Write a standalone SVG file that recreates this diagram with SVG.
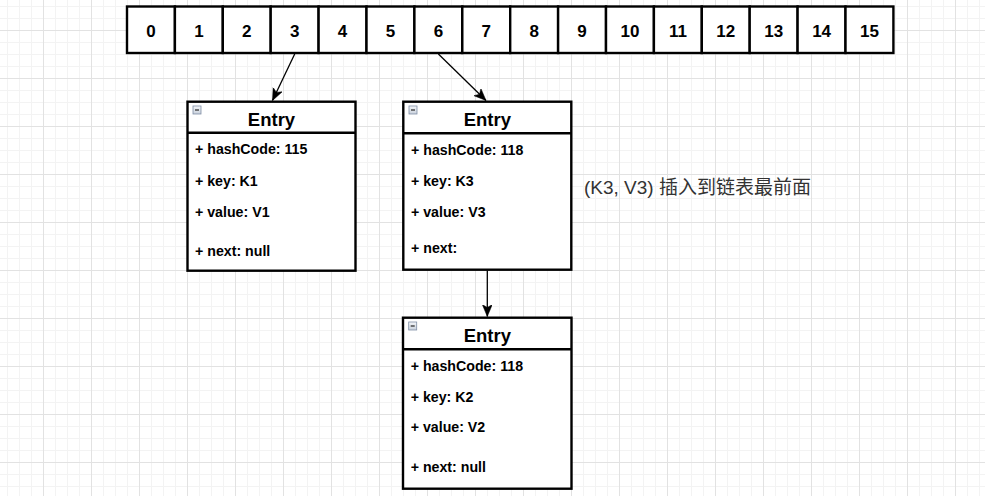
<svg xmlns="http://www.w3.org/2000/svg" width="985" height="496" viewBox="0 0 985 496">
<style>
.cell{fill:#fff;stroke:#000;stroke-width:2.4}
.num{font-family:"Liberation Sans",Arial,sans-serif;font-weight:bold;font-size:17px;text-anchor:middle;fill:#000}
.box{fill:#fff;stroke:#000;stroke-width:2.4}
.title{font-family:"Liberation Sans",Arial,sans-serif;font-weight:bold;font-size:18.5px;text-anchor:middle;fill:#000}
.field{font-family:"Liberation Sans",Arial,sans-serif;font-weight:bold;font-size:14.2px;fill:#000}
.conn{stroke:#000;stroke-width:1.3;fill:none}
.note{font-family:"Liberation Sans","Noto Sans CJK SC",sans-serif;font-size:19px;fill:#333}
.icon{fill:url(#ig);stroke:#7f8ea5;stroke-width:0.8}
</style>
<defs>
<pattern id="minor" patternUnits="userSpaceOnUse" width="12" height="12">
<path d="M7.5 0V12M0 6.5H12" stroke="#f3f3f3" stroke-width="1" fill="none"/>
</pattern>
<pattern id="major" patternUnits="userSpaceOnUse" width="48" height="48">
<path d="M43.5 0V48M0 30.5H48" stroke="#e2e2e2" stroke-width="1" fill="none"/>
</pattern>
<linearGradient id="ig" x1="0" y1="0" x2="0" y2="1">
<stop offset="0" stop-color="#f4f6f9"/>
<stop offset="1" stop-color="#c9d1dc"/>
</linearGradient>
<marker id="arr" markerUnits="userSpaceOnUse" markerWidth="14" markerHeight="12" refX="12" refY="5" orient="auto">
<path d="M0 0L12 5L0 10L3 5Z" fill="#000" stroke="#000" stroke-width="0.5"/>
</marker>
<g id="minus">
<rect class="icon" x="0" y="0" width="8" height="8"/>
<path d="M2 4H6" stroke="#333" stroke-width="1.3"/>
</g>
</defs>
<rect width="985" height="496" fill="#fff"/>
<rect width="985" height="496" fill="url(#minor)"/>
<rect width="985" height="496" fill="url(#major)"/>

<g id="array">
<rect class="cell" x="127" y="6.5" width="47.9" height="46.5"/>
<rect class="cell" x="174.9" y="6.5" width="47.9" height="46.5"/>
<rect class="cell" x="222.8" y="6.5" width="47.9" height="46.5"/>
<rect class="cell" x="270.7" y="6.5" width="47.9" height="46.5"/>
<rect class="cell" x="318.6" y="6.5" width="47.9" height="46.5"/>
<rect class="cell" x="366.5" y="6.5" width="47.9" height="46.5"/>
<rect class="cell" x="414.4" y="6.5" width="47.9" height="46.5"/>
<rect class="cell" x="462.3" y="6.5" width="47.9" height="46.5"/>
<rect class="cell" x="510.2" y="6.5" width="47.9" height="46.5"/>
<rect class="cell" x="558.1" y="6.5" width="47.9" height="46.5"/>
<rect class="cell" x="606" y="6.5" width="47.9" height="46.5"/>
<rect class="cell" x="653.9" y="6.5" width="47.9" height="46.5"/>
<rect class="cell" x="701.8" y="6.5" width="47.9" height="46.5"/>
<rect class="cell" x="749.7" y="6.5" width="47.9" height="46.5"/>
<rect class="cell" x="797.6" y="6.5" width="47.9" height="46.5"/>
<rect class="cell" x="845.5" y="6.5" width="47.9" height="46.5"/>
<text class="num" x="151" y="36.5">0</text>
<text class="num" x="198.9" y="36.5">1</text>
<text class="num" x="246.8" y="36.5">2</text>
<text class="num" x="294.7" y="36.5">3</text>
<text class="num" x="342.6" y="36.5">4</text>
<text class="num" x="390.5" y="36.5">5</text>
<text class="num" x="438.4" y="36.5">6</text>
<text class="num" x="486.3" y="36.5">7</text>
<text class="num" x="534.2" y="36.5">8</text>
<text class="num" x="582.1" y="36.5">9</text>
<text class="num" x="630" y="36.5">10</text>
<text class="num" x="677.9" y="36.5">11</text>
<text class="num" x="725.8" y="36.5">12</text>
<text class="num" x="773.7" y="36.5">13</text>
<text class="num" x="821.6" y="36.5">14</text>
<text class="num" x="869.5" y="36.5">15</text>
</g>

<g id="connectors">
<line class="conn" x1="294.7" y1="54" x2="272.5" y2="100.5" marker-end="url(#arr)"/>
<line class="conn" x1="438.4" y1="54" x2="486" y2="100.5" marker-end="url(#arr)"/>
<line class="conn" x1="487.3" y1="270.5" x2="487.3" y2="316.5" marker-end="url(#arr)"/>
</g>

<g id="entry1">
<rect class="box" x="187.5" y="101.7" width="168" height="169"/>
<line class="box" x1="187.5" y1="132.8" x2="355.5" y2="132.8"/>
<use href="#minus" x="193" y="106"/>
<text class="title" x="271.5" y="125.7">Entry</text>
<text class="field" x="195" y="154.3">+ hashCode: 115</text>
<text class="field" x="195" y="185.7">+ key: K1</text>
<text class="field" x="195" y="216.7">+ value: V1</text>
<text class="field" x="195" y="255.7">+ next: null</text>
</g>

<g id="entry2">
<rect class="box" x="403.3" y="101.7" width="168" height="168"/>
<line class="box" x1="403.3" y1="133.3" x2="571.3" y2="133.3"/>
<use href="#minus" x="409" y="106"/>
<text class="title" x="487.3" y="125.7">Entry</text>
<text class="field" x="411" y="155">+ hashCode: 118</text>
<text class="field" x="411" y="186">+ key: K3</text>
<text class="field" x="411" y="216.7">+ value: V3</text>
<text class="field" x="411" y="253">+ next:</text>
</g>

<g id="entry3">
<rect class="box" x="403" y="317.7" width="168.5" height="171"/>
<line class="box" x1="403" y1="349.3" x2="571.5" y2="349.3"/>
<use href="#minus" x="408.7" y="322"/>
<text class="title" x="487.3" y="341.7">Entry</text>
<text class="field" x="410.7" y="371">+ hashCode: 118</text>
<text class="field" x="410.7" y="401.7">+ key: K2</text>
<text class="field" x="410.7" y="432.3">+ value: V2</text>
<text class="field" x="410.7" y="471.7">+ next: null</text>
</g>

<g id="note">
<text class="note" x="584" y="194">(K3, V3) 插入到链表最前面</text>
</g>
</svg>
